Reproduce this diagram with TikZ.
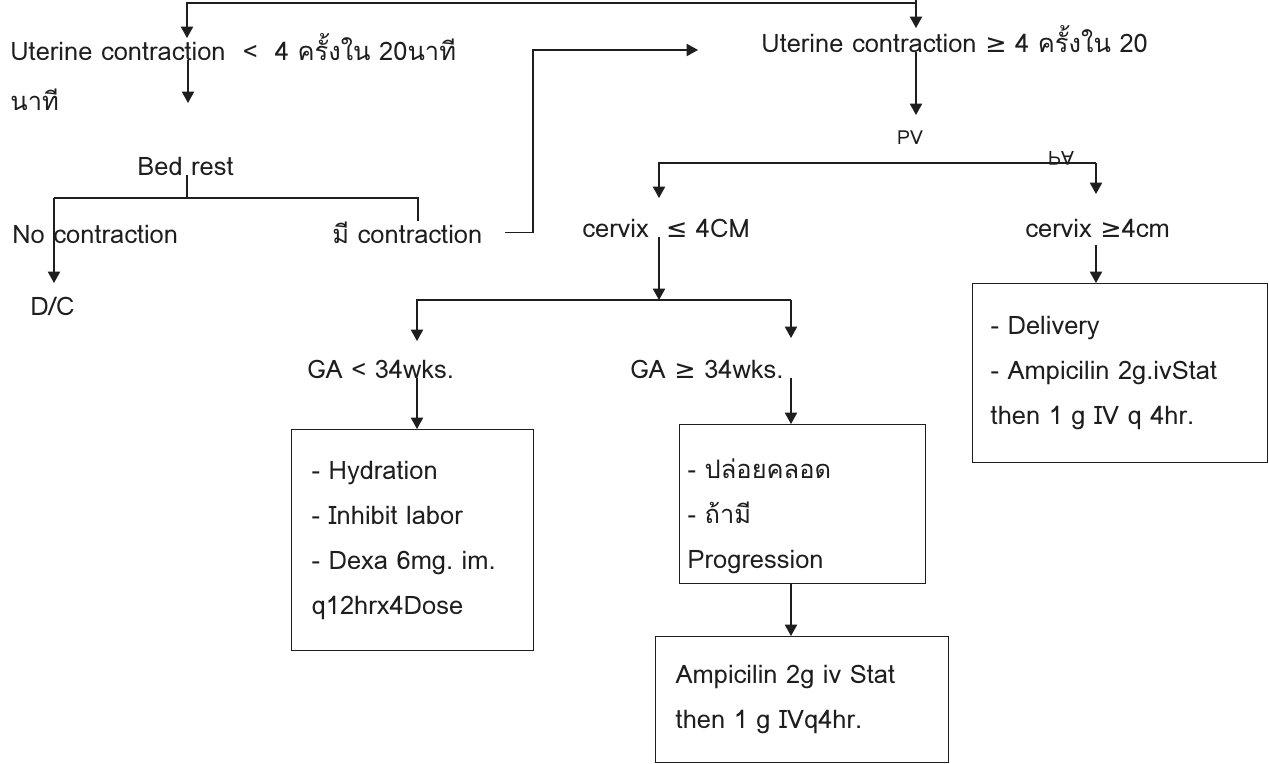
\documentclass[tikz,border=0pt]{standalone}
\usepackage{fontspec}
\usepackage{graphicx}
\setmainfont{Loma}[Script=Thai]
\newfontfamily\symfont{DejaVu Sans}
\usetikzlibrary{arrows.meta,positioning}
\frenchspacing
\definecolor{scanink}{RGB}{30,30,30}
\newcommand{\gesym}{{\symfont\char"2265}}
\newcommand{\lesym}{{\symfont\char"2264}}
\tikzstyle{arrow} = [line width=0.8pt,-{Triangle[length=6.5pt,width=7pt]},color=scanink]
\tikzstyle{line} = [line width=0.8pt,color=scanink]
\tikzstyle{label} = [anchor=base west,inner sep=0pt,text=scanink,font=\fontsize{14.5}{17}\selectfont]
\tikzstyle{box} = [draw=scanink,line width=0.8pt,anchor=north west,align=left,inner ysep=0pt,text=scanink,font=\fontsize{14.5}{25.6}\selectfont]

\begin{document}
\begin{tikzpicture}[x=0.02cm,y=-0.02cm]
\useasboundingbox[fill=white] (0,0) rectangle (1269,764);

% Top split
\coordinate (topin) at (916,-12);
\coordinate (split) at (916,3);
\coordinate (ucLowTip) at (187,38);
\coordinate (ucHighTip) at (916,28);

\node[label] (ucLow) at (10,60) {Uterine contraction \ < \ 4 ครั้งใน 20นาที};
\node[label] (ucLowB) at (10,110) {นาที};
\node[label] (ucHigh) at (761,52) {Uterine contraction \gesym{} 4 ครั้งใน 20};

\draw[arrow] (topin) -- (ucHighTip);
\draw[arrow] (split) -| (ucLowTip);

% Bed rest branch
\coordinate (bedTip) at (188,103);
\coordinate (bedJoin) at (187,198);
\coordinate (bjL) at (54,198);
\coordinate (bjR) at (418,198);
\coordinate (dcTip) at (54,283);

\node[label] (bedrest) at (137,175) {Bed rest};
\node[label] (nocon) at (12,243) {No contraction};
\node[label] (mecon) at (332,243) {มี contraction};
\node[label] (dc) at (30,315) {D/C};

\draw[arrow] (ucLow.south -| bedTip) -- (bedTip);
\draw[line] (bedrest.south -| bedJoin) -- (bedJoin);
\draw[line] (bjR |- mecon.north) -- (bjR) -- (bjL);
\draw[arrow] (bjL) -- (dcTip);

% Back up to the right column
\coordinate (dashX) at (505,0);
\coordinate (riseX) at (533,0);
\coordinate (riseTip) at (698,50);
\draw[arrow] (dashX |- mecon.east) -| (riseX |- riseTip) -- (riseTip);

% PV
\coordinate (pvTip) at (916,115);
\coordinate (brL) at (659,163);
\coordinate (brR) at (1096,163);
\coordinate (cxLowTip) at (659,198);
\coordinate (cxHighTip) at (1096,194);

\node[text=scanink,font=\fontsize{11}{13}\selectfont] (pv) at (910,138) {PV};
\node[text=scanink,font=\fontsize{11}{13}\selectfont] (pa) at (1061,158) {\scalebox{1}[-1]{PA}};
\node[label] (cxLow) at (582,237) {cervix\ \ \lesym{} 4CM};
\node[label] (cxHigh) at (1025,237) {cervix \gesym{}4cm};

\draw[arrow] (ucHigh.south -| pvTip) -- (pvTip);
\draw[arrow] (brR) -- (brL) -- (cxLowTip);
\draw[arrow] (brR) -- (cxHighTip);

% GA split
\coordinate (gaL) at (417,300);
\coordinate (gaR) at (791,300);
\coordinate (gaLowTip) at (417,341);
\coordinate (gaHighTip) at (791,338);

\node[label] (gaLow) at (307,378) {GA < 34wks.};
\node[label] (gaHigh) at (630,378) {GA \gesym{} 34wks.};

\draw[arrow] (cxLow.south -| brL) -- (brL |- gaL);
\draw[arrow] (gaR) -- (gaL) -- (gaLowTip);
\draw[arrow] (gaR) -- (gaHighTip);

% Orders
\node[box,text width=4.04cm,inner xsep=0.4cm,minimum height=4.42cm] (boxA) at (291,429)
  {- Hydration\\- Inhibit labor\\- Dexa 6mg. im.\\q12hrx4Dose};
\node[box,text width=4.6cm,inner xsep=0.16cm,minimum height=3.18cm] (boxB) at (679,424)
  {\rule{0pt}{0.86cm}- ปล่อยคลอด\\- ถ้ามี\\Progression};
\node[box,text width=5.06cm,inner xsep=0.4cm,minimum height=2.52cm] (boxC) at (655,636)
  {Ampicilin 2g iv Stat\\then 1 g IVq4hr.};
\node[box,text width=5.18cm,inner xsep=0.36cm,minimum height=3.58cm] (boxR) at (972,283)
  {- Delivery\\- Ampicilin 2g.ivStat\\then 1 g IV q 4hr.};

\draw[arrow] (gaLow.south -| gaL) -- (boxA.north -| gaL);
\draw[arrow] (gaHigh.south -| gaR) -- (boxB.north -| gaR);
\draw[arrow] (boxB.south -| gaR) -- (boxC.north -| gaR);
\draw[arrow] ([yshift=-4pt]cxHigh.south -| brR) -- (boxR.north -| brR);
\end{tikzpicture}
\end{document}
